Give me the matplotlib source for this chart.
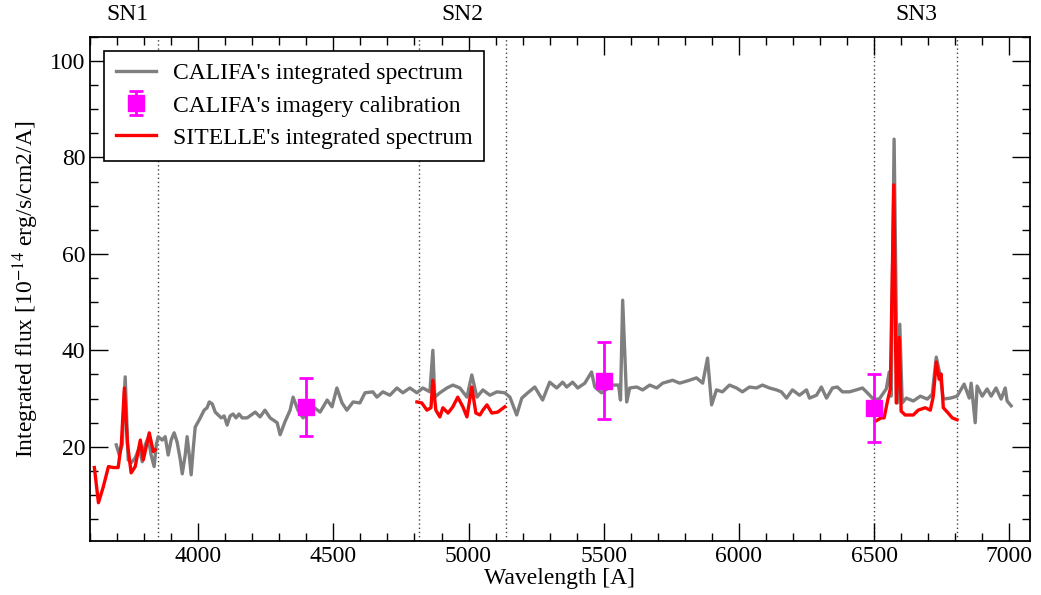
import numpy as np
import matplotlib
matplotlib.use('Agg')
import matplotlib.pyplot as plt
from matplotlib.ticker import MultipleLocator

plt.rcParams['font.family'] = ['Liberation Serif', 'DejaVu Serif']
plt.rcParams['mathtext.fontset'] = 'stix'

# CALIFA integrated spectrum
califa_wl = [3697, 3708, 3719, 3730, 3741, 3752, 3767, 3782, 3793, 3804, 3815, 3826, 3837, 3845,
             3852, 3867, 3878, 3889, 3900, 3911, 3922, 3934, 3941, 3952, 3959, 3967, 3974, 3982,
             3989, 4004, 4022, 4033, 4041, 4052, 4063, 4074, 4085, 4096, 4107, 4118, 4129, 4140,
             4151, 4163, 4181, 4211, 4229, 4247, 4266, 4292, 4303, 4321, 4340, 4351, 4369, 4388,
             4425, 4451, 4477, 4495, 4513, 4532, 4550, 4573, 4598, 4617, 4646, 4661, 4683, 4709,
             4735, 4757, 4783, 4809, 4831, 4857, 4868, 4875, 4894, 4920, 4942, 4968, 4994, 5012,
             5031, 5053, 5079, 5105, 5134, 5153, 5178, 5197, 5219, 5245, 5274, 5300, 5326, 5348,
             5363, 5385, 5404, 5430, 5455, 5467, 5492, 5533, 5555, 5562, 5570, 5585, 5596, 5622,
             5644, 5670, 5696, 5718, 5755, 5781, 5817, 5843, 5866, 5884, 5899, 5917, 5939, 5965,
             5991, 6013, 6039, 6065, 6087, 6113, 6139, 6157, 6176, 6198, 6224, 6250, 6261, 6287,
             6305, 6324, 6346, 6364, 6383, 6409, 6434, 6457, 6475, 6497, 6519, 6545, 6556, 6563,
             6574, 6586, 6595, 6604, 6619, 6645, 6671, 6697, 6715, 6730, 6745, 6756, 6782, 6807,
             6833, 6852, 6859, 6874, 6881, 6900, 6918, 6933, 6951, 6970, 6985, 6992, 7007]
califa_flux = [20.4, 18.3, 20.4, 34.5, 17.3, 16.7, 17.7, 19.8, 16.9, 20.4, 21.9, 18.3, 15.9, 20.4,
               22.1, 21.4, 22.1, 18.3, 21.4, 22.9, 21.0, 17.3, 14.4, 18.3, 22.1, 18.3, 14.2, 19.8,
               24.1, 25.6, 27.6, 28.1, 29.3, 28.9, 27.2, 26.6, 26.0, 26.4, 24.5, 26.4, 26.8, 26.0,
               26.8, 26.0, 26.0, 27.2, 26.2, 27.6, 26.0, 25.0, 22.5, 25.2, 27.6, 30.3, 27.6, 26.0,
               28.3, 27.2, 29.7, 28.3, 32.2, 29.1, 27.6, 29.3, 29.1, 31.2, 31.4, 30.3, 31.4, 30.7,
               32.2, 31.2, 32.2, 31.2, 32.2, 31.4, 40.0, 30.3, 31.2, 32.2, 32.8, 32.2, 30.3, 34.9,
               30.3, 31.8, 30.7, 31.4, 31.2, 30.3, 26.6, 30.1, 31.2, 32.4, 29.7, 33.4, 32.2, 33.4,
               32.4, 33.4, 32.2, 33.2, 35.5, 32.4, 31.2, 32.8, 32.8, 29.7, 50.4, 29.3, 32.2, 32.4,
               31.8, 32.8, 32.2, 33.2, 33.8, 33.2, 33.8, 34.3, 33.2, 38.4, 28.7, 31.8, 31.4, 32.8,
               32.2, 31.4, 32.4, 32.2, 32.8, 32.2, 31.8, 31.4, 30.1, 31.8, 30.7, 31.8, 30.1, 30.7,
               32.4, 30.1, 32.2, 32.4, 31.4, 31.4, 31.8, 32.2, 31.2, 29.9, 29.9, 32.0, 35.5, 30.5,
               83.8, 29.1, 45.4, 29.1, 30.1, 29.5, 30.5, 29.9, 30.9, 38.6, 34.7, 29.9, 30.1, 30.5,
               33.0, 30.1, 33.2, 25.0, 32.6, 30.5, 32.0, 30.5, 32.2, 29.9, 32.2, 29.5, 28.5]

# SITELLE integrated spectrum, one piece per filter
sn1_wl = [3616, 3631, 3649, 3668, 3686, 3704, 3716, 3727, 3738, 3752, 3767, 3786, 3797, 3819, 3834, 3841]
sn1_flux = [15.7, 8.4, 11.7, 15.9, 15.7, 15.7, 20.8, 32.2, 20.8, 14.6, 15.9, 21.4, 17.3, 22.9, 19.0, 19.4]
sn2_wl = [4809, 4827, 4846, 4861, 4868, 4879, 4894, 4905, 4924, 4942, 4960, 4979, 4994, 5012,
          5027, 5042, 5053, 5068, 5086, 5108, 5134]
sn2_flux = [29.3, 29.1, 27.6, 28.1, 33.8, 27.6, 26.2, 28.1, 27.0, 28.3, 30.3, 28.3, 26.2, 32.4,
            27.0, 26.6, 27.6, 28.7, 27.0, 27.2, 28.3]
sn3_wl = [6508, 6526, 6537, 6552, 6560, 6573, 6582, 6593, 6600, 6615, 6645, 6663, 6689, 6708,
          6719, 6730, 6741, 6748, 6756, 6774, 6789, 6807]
sn3_flux = [25.4, 26.0, 26.0, 30.1, 32.0, 74.3, 29.1, 42.7, 27.4, 26.6, 26.6, 27.6, 28.1, 27.6,
            30.5, 37.6, 34.0, 35.1, 28.1, 27.0, 26.0, 25.6]

# CALIFA imagery calibration points
calib_wl = [4400, 5500, 6500]
calib_flux = [28.2, 33.7, 28.1]
calib_err = [6.0, 8.0, 7.1]

# filter edges and names
filter_edges = [3850, 4815, 5140, 6500, 6805]
filter_names = ['SN1', 'SN2', 'SN3']
filter_centers = [3740, 4977, 6655]

fig = plt.figure(figsize=(10.41, 5.95), dpi=100)
ax = fig.add_axes([0.0865, 0.091, 0.9025, 0.847])

for x in filter_edges:
    ax.axvline(x, color='#444444', linestyle=(0, (1, 2)), linewidth=1.0, zorder=1)

l_califa, = ax.plot(califa_wl, califa_flux, color='#7f7f7f', linewidth=2.4, zorder=2)
e_calib = ax.errorbar(calib_wl, calib_flux, yerr=calib_err, fmt='s', color='magenta', markersize=12,
                      elinewidth=2, capsize=5, capthick=2, zorder=4)
l_sitelle, = ax.plot(sn1_wl, sn1_flux, color='red', linewidth=2.4, zorder=3)
ax.plot(sn2_wl, sn2_flux, color='red', linewidth=2.4, zorder=3)
ax.plot(sn3_wl, sn3_flux, color='red', linewidth=2.4, zorder=3)

for name, xc in zip(filter_names, filter_centers):
    ax.text(xc, 1.045, name, transform=ax.get_xaxis_transform(), ha='center', va='center',
            fontsize=17)

ax.set_xlim(3600, 7075)
ax.set_ylim(0.5, 105)
ax.xaxis.set_major_locator(MultipleLocator(500))
ax.xaxis.set_minor_locator(MultipleLocator(100))
ax.yaxis.set_major_locator(MultipleLocator(20))
ax.yaxis.set_minor_locator(MultipleLocator(5))
ax.tick_params(which='both', direction='in', top=True, right=True, labelsize=17)
ax.tick_params(which='major', length=13, width=1)
ax.tick_params(which='minor', length=6, width=1)
for s in ax.spines.values():
    s.set_linewidth(1.3)

ax.set_xlabel('Wavelength [A]', fontsize=17, labelpad=1)
ax.set_ylabel('Integrated flux [10$^{-14}$ erg/s/cm2/A]', fontsize=17, labelpad=6)

leg = ax.legend([l_califa, e_calib, l_sitelle],
                ["CALIFA's integrated spectrum", "CALIFA's imagery calibration",
                 "SITELLE's integrated spectrum"],
                loc='upper left', fontsize=17, fancybox=False, edgecolor='black',
                framealpha=1, handlelength=1.7, handletextpad=0.7, borderpad=0.5,
                borderaxespad=0.6, labelspacing=0.45)
leg.get_frame().set_linewidth(1.2)

fig.savefig('out.png', dpi=100)
